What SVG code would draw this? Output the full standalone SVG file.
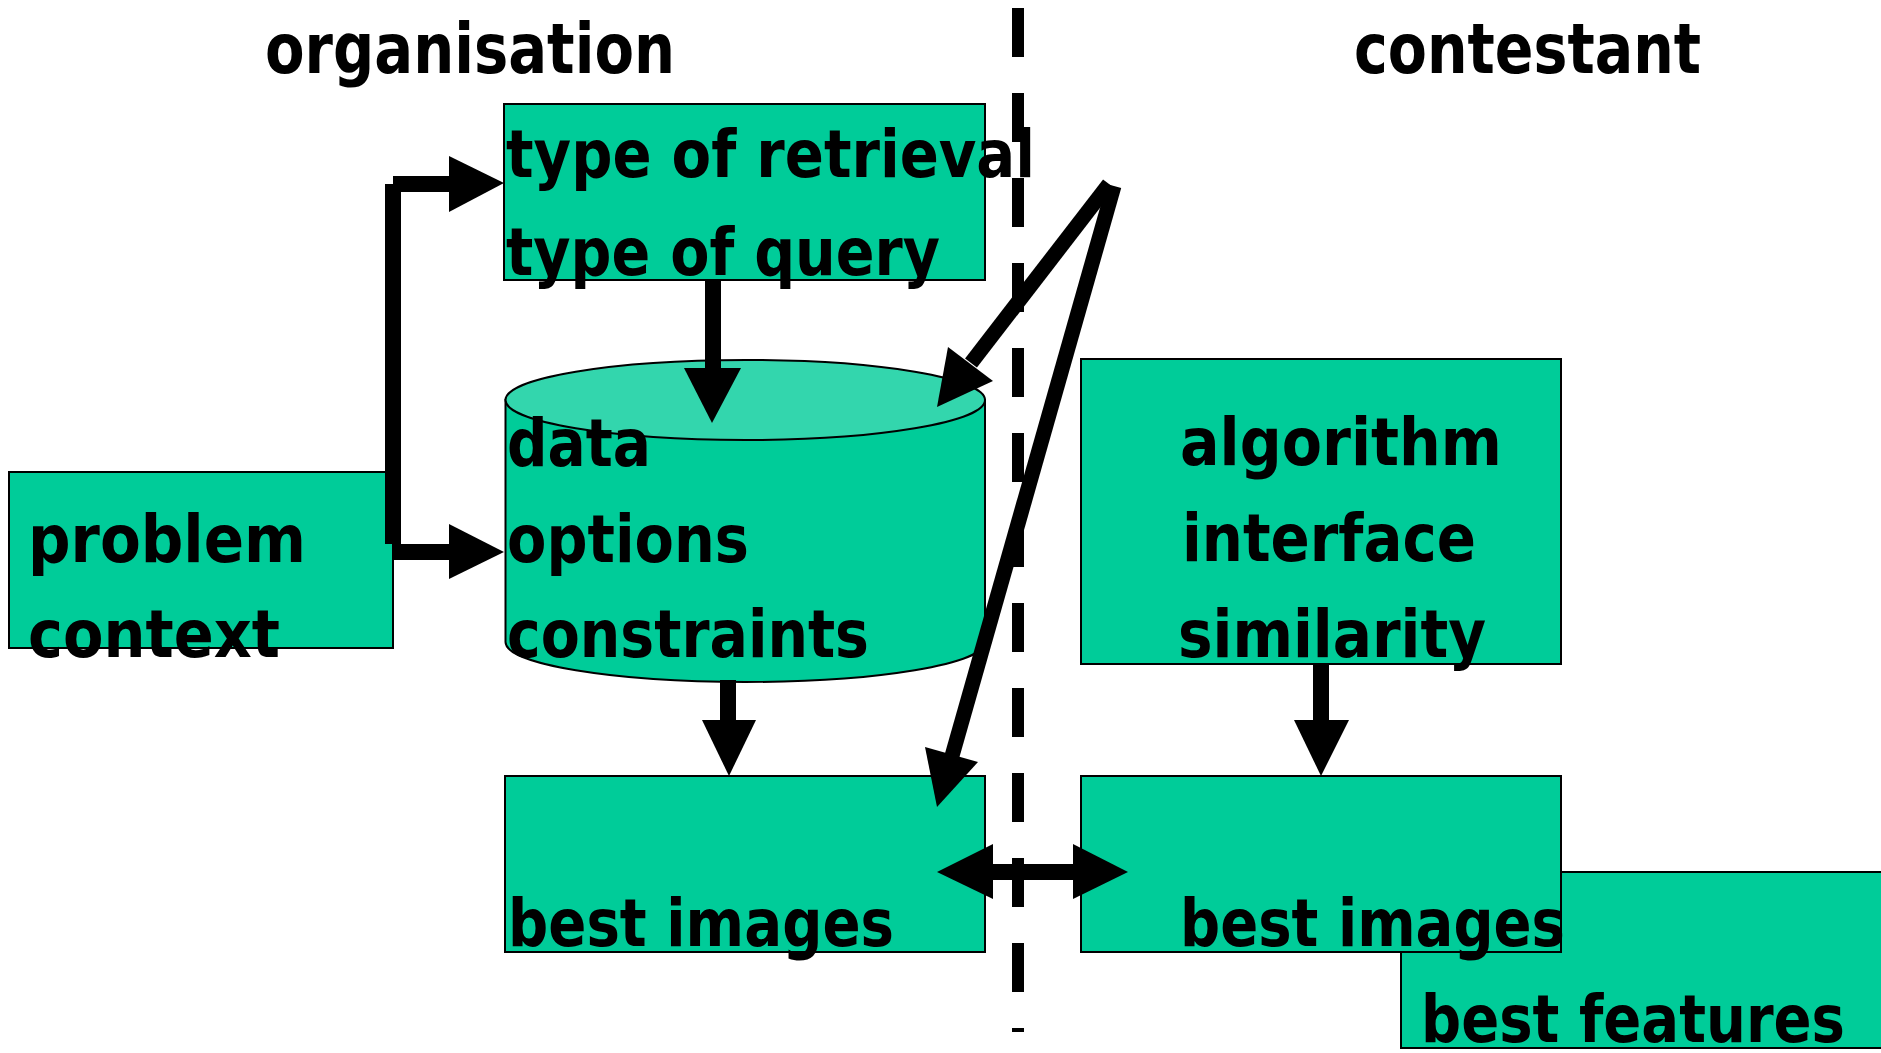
<svg xmlns="http://www.w3.org/2000/svg" width="1881" height="1053" viewBox="0 0 1881 1053">
<style>
.box{fill:#00CC99;stroke:#000;stroke-width:2}
.top{fill:#33D6AD;stroke:#000;stroke-width:2}
.t{font-family:"DejaVu Sans","Liberation Sans",sans-serif;font-weight:bold;font-size:66px;fill:#000}
.h{font-family:"DejaVu Sans","Liberation Sans",sans-serif;font-weight:bold;font-size:70px;fill:#000}
.ln{stroke:#000;stroke-width:16;fill:none;stroke-linecap:butt}
.dg{stroke:#000;stroke-width:15;fill:none;stroke-linecap:butt}
.hd{fill:#000}
.dash{stroke:#000;stroke-width:12;stroke-dasharray:49 36;fill:none}
</style>
<rect width="1881" height="1053" fill="#fff"/>
<g id="title-organisation"><text class="h" x="265" y="73" textLength="410" lengthAdjust="spacingAndGlyphs">organisation</text></g>
<g id="title-contestant"><text class="h" x="1354" y="73" textLength="347" lengthAdjust="spacingAndGlyphs">contestant</text></g>
<g id="divider"><line class="dash" x1="1018" y1="8" x2="1018" y2="1032"/></g>
<g id="node-problem">
<rect class="box" x="9" y="472" width="384" height="176"/>
<text class="t" x="28" y="562" textLength="278" lengthAdjust="spacingAndGlyphs">problem</text>
<text class="t" x="28" y="657" textLength="252" lengthAdjust="spacingAndGlyphs">context</text>
</g>
<g id="node-type">
<rect class="box" x="504" y="104" width="481" height="176"/>
<text class="t" x="506" y="177" textLength="529" lengthAdjust="spacingAndGlyphs">type of retrieval</text>
<text class="t" x="506" y="275" textLength="434" lengthAdjust="spacingAndGlyphs">type of query</text>
</g>
<g id="node-data">
<path class="box" d="M505.5,400 L505.5,642 A239.75,40 0 0 0 985,642 L985,400 Z"/>
<ellipse class="top" cx="745.25" cy="400" rx="239.75" ry="40"/>
<text class="t" x="507" y="466" textLength="144" lengthAdjust="spacingAndGlyphs">data</text>
<text class="t" x="507" y="562" textLength="242" lengthAdjust="spacingAndGlyphs">options</text>
<text class="t" x="507" y="657" textLength="362" lengthAdjust="spacingAndGlyphs">constraints</text>
</g>
<g id="node-algorithm">
<rect class="box" x="1081" y="359" width="480" height="305"/>
<text class="t" x="1180" y="465" textLength="322" lengthAdjust="spacingAndGlyphs">algorithm</text>
<text class="t" x="1182" y="561" textLength="294" lengthAdjust="spacingAndGlyphs">interface</text>
<text class="t" x="1178" y="657" textLength="308" lengthAdjust="spacingAndGlyphs">similarity</text>
</g>
<g id="node-best-images-org">
<rect class="box" x="505" y="776" width="480" height="176"/>
<text class="t" x="508" y="946" textLength="386" lengthAdjust="spacingAndGlyphs">best images</text>
</g>
<g id="node-best-features">
<rect class="box" x="1401" y="872" width="481" height="176"/>
<text class="t" x="1421" y="1042" textLength="424" lengthAdjust="spacingAndGlyphs">best features</text>
</g>
<g id="node-best-images-cont">
<rect class="box" x="1081" y="776" width="480" height="176"/>
<text class="t" x="1180" y="946" textLength="385" lengthAdjust="spacingAndGlyphs">best images</text>
</g>
<g id="connectors">
<line class="ln" x1="393" y1="184" x2="393" y2="544"/>
<line class="ln" x1="393" y1="184" x2="450" y2="184"/>
<polygon class="hd" points="449,156 504,183 449,212"/>
<line class="ln" x1="392" y1="552" x2="450" y2="552"/>
<polygon class="hd" points="449,524 504,552 449,579"/>
<line class="ln" x1="713" y1="280" x2="713" y2="369"/>
<polygon class="hd" points="684,368 741,368 712,423"/>
<line class="ln" x1="728" y1="680" x2="728" y2="721"/>
<polygon class="hd" points="702,720 756,720 729,776"/>
<line class="ln" x1="1321" y1="664" x2="1321" y2="721"/>
<polygon class="hd" points="1294,720 1349,720 1321,776"/>
<line class="dg" x1="1109" y1="184" x2="971" y2="363"/>
<polygon class="hd" points="948,347 993,381 937,407"/>
<line class="dg" x1="1114" y1="186" x2="952" y2="756"/>
<polygon class="hd" points="925,747 978,762 937,807"/>
<line class="ln" x1="992" y1="872" x2="1075" y2="872"/>
<polygon class="hd" points="993,844 993,899 937,872"/>
<polygon class="hd" points="1073,844 1073,899 1128,872"/>
</g>
</svg>
